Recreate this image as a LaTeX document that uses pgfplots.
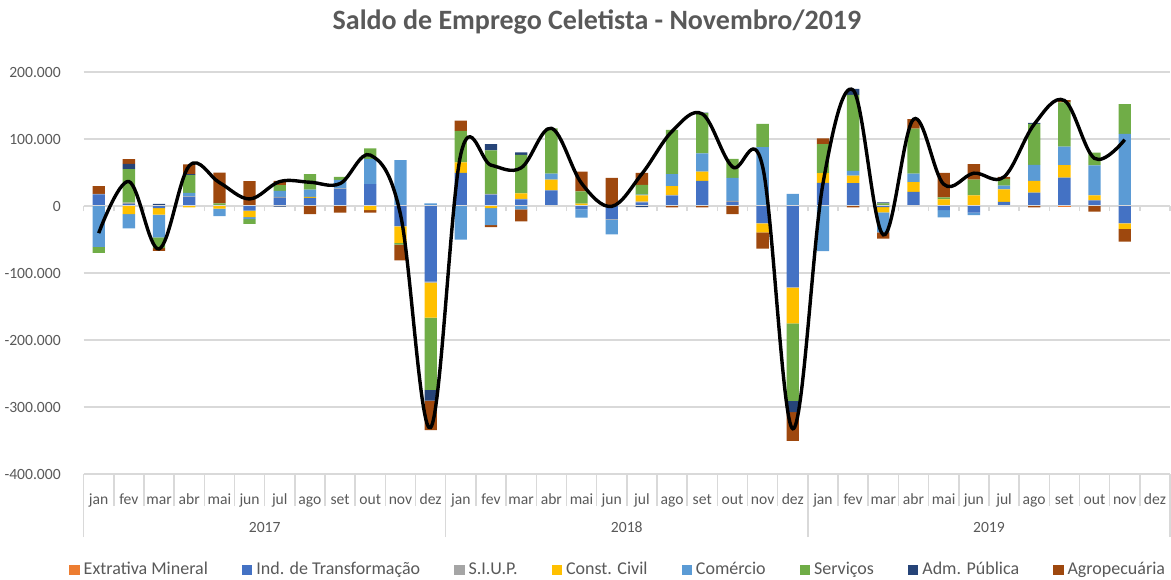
\documentclass[border=0pt]{standalone}
\usepackage{fontspec}
\setmainfont{Carlito}
\usepackage{pgfplots}
\usepackage{pgfplotstable}
\pgfplotsset{compat=1.18}

\definecolor{txt}{HTML}{595959}
\definecolor{gridc}{HTML}{D9D9D9}
\definecolor{cEM}{HTML}{ED7D31}
\definecolor{cIND}{HTML}{4472C4}
\definecolor{cSIUP}{HTML}{A5A5A5}
\definecolor{cCC}{HTML}{FFC000}
\definecolor{cCOM}{HTML}{5B9BD5}
\definecolor{cSERV}{HTML}{70AD47}
\definecolor{cADM}{HTML}{264478}
\definecolor{cAGRO}{HTML}{9E480E}

% saldo em milhares, parte positiva de cada setor
\pgfplotstableread{
x em ind siup cc com serv adm agro
0 0 17.5 0.5 0 0 0 0 11.5
1 0 3 2 0 0 50 8 7
2 0 0 1.5 0 0 0 1.5 0
3 0 13.5 1 0 5 26.5 1.5 14.5
4 0 0 0.5 0 0 3.5 0 46
5 0 0 0 0 0 0 0 37
6 0 12 1.5 0 9 8.5 0 6.5
7 0 12 0 1.5 11 23 0 0
8 0 25.5 1 0 12.5 4.5 0 0
9 0 32.5 0 0 38 15.5 0 0
10 0 0 0 0 68.5 0 0 0
11 0 0 0 0 4 0 0 0
12 0 49.5 0 15.5 0 47 0 15.5
13 0 17 1 0 0 65 9.5 0
14 0 10 0.5 8.5 0 57.5 3.5 0
15 0 23.5 0 16 9 67.5 0 0
16 0 0 0 3.5 0 18.5 0 29.5
17 0 0 0 0 0 0 0 42
18 0 5.5 1 9.5 1 14.5 0 18
19 0 15.5 1 13 18 66 0 0
20 0 37.5 0 14 27 60 1 0
21 0 6 1.5 0 34.5 28.5 0 0
22 0 0 0 0 88 34.5 0 0
23 0 0 0 0 18 0 0 0
24 0 34.5 0 14.5 0 43.5 0 8.5
25 0 34 0 11.5 7 113.5 9 0
26 0 0 1 0 0 3 1.5 0
27 0 21 0 14.5 13 67 0 14
28 0 0 1.5 8.5 0 3 0 36.5
29 0 0 0 16 0 23.5 0 23
30 0 6 0 19 5.5 10 0 3
31 0 20 0 17.5 24 61 1.5 0
32 0 42.5 0 18.5 27.5 66 0 3.5
33 0 8.5 0 7.5 44.5 19 0 0
34 0 0 0 0 107.5 44.5 0 0
}\pos

% parte negativa
\pgfplotstableread{
x em ind siup cc com serv adm agro
0 0 0 0 0 -61 -9 0 0
1 0 0 0 -12 -21.5 0 0 0
2 0 -3 0 -10 -34 -16 0 -4
3 0 0 0 -2 0 0 0 0
4 0 0 0 -4 -11 0 0 0
5 0 -7 0 -9.5 -3 -7 0 0
6 0 0 0 0 0 0 -1 0
7 0 0 0 0 0 0 0 -12
8 0 0 0 0 0 0 0 -10
9 0 0 0 -6 0 0 0 -4
10 0 -29.5 -1 -24.5 0 -2.5 0 -23.5
11 0 -113 -1.5 -52 0 -108 -16 -44
12 0 0 0 0 -50 0 0 0
13 0 0 0 -3 -25.5 0 0 -3
14 0 0 0 0 -5 0 0 -18
15 0 0 0 0 0 0 0 0
16 0 -5 0 0 -12.5 0 0 0
17 0 -19.5 -1 0 -22 0 0 0
18 0 0 0 0 0 0 -1.5 0
19 0 0 0 0 0 0 0 -2
20 0 0 0 0 0 0 0 -2
21 0 0 0 0 0 0 0 -12
22 0 -25 -1 -13.5 0 0 0 -24
23 0 -121 -1 -53 0 -116 -16.5 -43
24 0 0 0 0 -67.5 0 0 0
25 0 0 0 0 0 0 0 -2
26 0 -1.5 0 -8 -30 0 0 -9
27 0 0 0 0 0 0 0 0
28 0 -6 0 0 -11 0 0 0
29 0 -10 0 0 -3.5 0 0 0
30 0 0 0 0 0 0 0 0
31 0 0 0 0 0 0 0 -2
32 -0.5 0 0 0 0 0 0 0
33 0 0 0 0 0 0 0 -8.5
34 0 -25 -1 -8 0 0 0 -19
}\neg

% saldo total
\pgfplotstableread{
x total
0 -40.5
1 36.5
2 -64
3 60
4 35
5 10.5
6 36.5
7 35.5
8 33.5
9 76
10 -12.5
11 -330.5
12 77.5
13 61
14 57
15 116
16 34
17 -0.5
18 48
19 111.5
20 137.5
21 58.5
22 59
23 -332.5
24 33.5
25 173
26 -43
27 129.5
28 32.5
29 49
30 43.5
31 122
32 157.5
33 71
34 99
}\tot

\pgfplotsset{
  base/.style={
    scale only axis, width=543.2pt, height=201pt,
    at={(41.8pt,52.5pt)}, anchor=south west,
    xmin=-0.5, xmax=35.5, ymin=-400, ymax=200,
  },
  barsty/.style={ybar stacked, bar width=6.15pt},
}

\begin{document}
\begin{tikzpicture}
\path[use as bounding box] (0,0) rectangle (585.5pt,289.5pt);

\node[font=\bfseries\fontsize{14}{16}\selectfont, text=txt] at (298.5pt,278.5pt)
  {Saldo de Emprego Celetista - Novembro/2019};

% positivos, grade, eixos e legenda
\begin{axis}[base, barsty, clip=false,
    axis line style={draw=none},
    tick pos=left, tick align=outside,
    ytick={-400,-300,...,200},
    yticklabels={-400.000,-300.000,-200.000,-100.000,0,100.000,200.000},
    ytick style={draw=none},
    ymajorgrids, grid style={gridc, line width=0.75pt},
    yticklabel style={font=\fontsize{7.8}{9}\selectfont, text=txt, inner sep=0pt, xshift=-7pt},
    xtick={0,...,35},
    xticklabels={jan,fev,mar,abr,mai,jun,jul,ago,set,out,nov,dez,
                 jan,fev,mar,abr,mai,jun,jul,ago,set,out,nov,dez,
                 jan,fev,mar,abr,mai,jun,jul,ago,set,out,nov,dez},
    xticklabel style={font=\fontsize{7.8}{9}\selectfont, text=txt, inner sep=0pt,
      text height=5.8pt, text depth=1.6pt, yshift=-5pt},
    major x tick style={draw=none},
    minor xtick={0.5,1.5,...,34.5},
    minor x tick style={gridc, line width=0.75pt},
    minor tick length=16pt,
    extra x ticks={-0.5,11.5,23.5,35.5},
    extra x tick labels={},
    extra x tick style={major x tick style={draw=gridc, line width=0.75pt}, major tick length=31.5pt},
    legend columns=8,
    legend style={at={(0.493,-0.239)}, anchor=center, draw=none,
      font=\fontsize{9}{11}\selectfont, text=txt,
      /tikz/every even column/.append style={column sep=15pt}},
    legend image code/.code={\fill[#1] (0pt,-2.6pt) rectangle (5.2pt,2.6pt);},
]
\addplot[fill=cEM, draw=none] table[x=x, y=em] {\pos};
\addplot[fill=cIND, draw=none] table[x=x, y=ind] {\pos};
\addplot[fill=cSIUP, draw=none] table[x=x, y=siup] {\pos};
\addplot[fill=cCC, draw=none] table[x=x, y=cc] {\pos};
\addplot[fill=cCOM, draw=none] table[x=x, y=com] {\pos};
\addplot[fill=cSERV, draw=none] table[x=x, y=serv] {\pos};
\addplot[fill=cADM, draw=none] table[x=x, y=adm] {\pos};
\addplot[fill=cAGRO, draw=none] table[x=x, y=agro] {\pos};
\legend{Extrativa Mineral, Ind. de Transformação, S.I.U.P., Const. Civil,
        Comércio, Serviços, Adm. Pública, Agropecuária}
\node[font=\fontsize{7.8}{9}\selectfont, text=txt] at (axis description cs:0.1667,-0.132) {2017};
\node[font=\fontsize{7.8}{9}\selectfont, text=txt] at (axis description cs:0.5,-0.132) {2018};
\node[font=\fontsize{7.8}{9}\selectfont, text=txt] at (axis description cs:0.8333,-0.132) {2019};
\end{axis}

% negativos e linha do zero
\begin{axis}[base, barsty,
    axis y line=none, axis x line*=middle,
    x axis line style={-, draw=gridc, line width=1pt},
    xtick={-0.5,0.5,...,35.5}, xticklabels={},
    tick align=outside, major tick length=2.5pt,
    x tick style={draw=gridc, line width=0.75pt},
    ytick=\empty,
]
\addplot[fill=cEM, draw=none] table[x=x, y=em] {\neg};
\addplot[fill=cIND, draw=none] table[x=x, y=ind] {\neg};
\addplot[fill=cSIUP, draw=none] table[x=x, y=siup] {\neg};
\addplot[fill=cCC, draw=none] table[x=x, y=cc] {\neg};
\addplot[fill=cCOM, draw=none] table[x=x, y=com] {\neg};
\addplot[fill=cSERV, draw=none] table[x=x, y=serv] {\neg};
\addplot[fill=cADM, draw=none] table[x=x, y=adm] {\neg};
\addplot[fill=cAGRO, draw=none] table[x=x, y=agro] {\neg};
\end{axis}

% saldo total
\begin{axis}[base, axis lines=none, xtick=\empty, ytick=\empty]
\addplot[black, line width=1.7pt, smooth, tension=0.6] table[x=x, y=total] {\tot};
\end{axis}
\end{tikzpicture}
\end{document}
